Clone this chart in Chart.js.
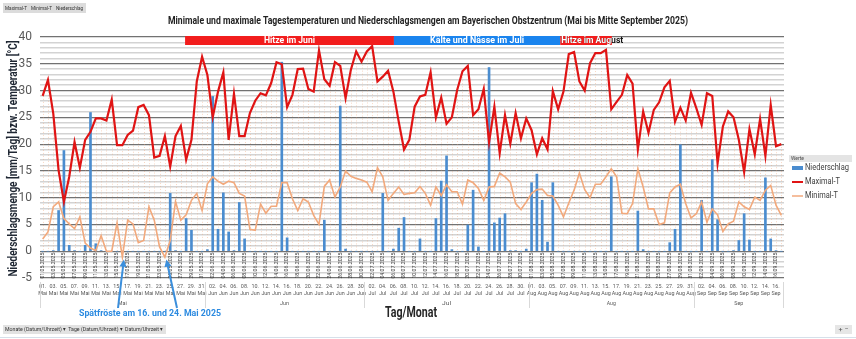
<!DOCTYPE html>
<html>
<head>
<meta charset="utf-8">
<title>Tagestemperaturen und Niederschlag – Bayerisches Obstzentrum 2025</title>
<script src="https://cdn.jsdelivr.net/npm/chart.js@4.4.2/dist/chart.umd.min.js"></script>
<style>
  html, body { margin: 0; padding: 0; background: #fff; }
  #wrap { width: 856px; height: 339px; }
</style>
</head>
<body>
<div id="wrap"><canvas id="wetter" width="856" height="339"></canvas></div>
<script>
// Kategorien: 01.05. bis 17.09.2025
const monthNames = ['Mai', 'Jun', 'Jul', 'Aug', 'Sep'];
const monthNums = ['05', '06', '07', '08', '09'];
const monthDays = [31, 30, 31, 31, 17];

// Tageswerte (°C bzw. mm/Tag)
const maxTemp = [
  29.0, 32.0, 25.7, 15.1, 9.2, 13.9, 20.4, 15.6, 20.8, 22.3,
  24.8, 24.8, 24.4, 28.3, 19.8, 19.8, 21.7, 22.5, 26.9, 27.3,
  25.4, 17.5, 17.8, 21.5, 15.8, 21.5, 23.4, 17.1, 20.8, 31.7,
  36.3, 32.9, 25.0, 29.8, 33.4, 20.8, 29.4, 21.5, 21.5, 25.8,
  28.1, 29.5, 29.1, 31.4, 35.3, 34.9, 26.9, 29.2, 34.0, 34.1,
  30.3, 29.8, 37.5, 32.1, 30.9, 35.3, 34.6, 28.6, 33.9, 37.3,
  35.4, 37.3, 38.3, 31.7, 32.6, 33.7, 29.8, 24.2, 19.0, 20.8,
  27.0, 28.9, 29.2, 33.4, 25.0, 28.7, 23.8, 25.0, 30.1, 33.6,
  34.6, 25.4, 26.5, 30.3, 20.3, 27.0, 18.3, 25.4, 20.1, 25.8,
  21.1, 24.8, 22.6, 18.1, 21.1, 19.0, 29.9, 26.5, 29.8, 36.8,
  37.2, 31.7, 30.0, 35.1, 37.0, 37.0, 37.6, 26.5, 27.9, 29.2,
  32.9, 31.3, 19.0, 26.1, 22.1, 26.4, 27.8, 30.6, 31.8, 24.2,
  26.8, 24.4, 29.6, 26.7, 23.6, 29.5, 29.0, 16.4, 23.3, 26.1,
  25.0, 20.8, 14.8, 22.8, 18.1, 24.7, 17.8, 27.3, 19.6, 20.0
];
const minTemp = [
  2.3, 3.6, 8.3, 9.2, 6.1, 5.1, 4.2, 6.4, 1.5, 0.6,
  0.1, 2.9, 0.0, 0.0, 5.3, -1.1, 5.8, 5.1, 1.6, 2.0,
  8.3, 5.8, 0.8, -1.1, 2.0, 9.3, 5.8, 6.8, 9.5, 10.8,
  7.6, 12.6, 13.9, 13.1, 12.5, 13.1, 12.8, 10.8, 10.3, 4.1,
  3.9, 8.8, 7.1, 8.4, 8.4, 12.8, 12.8, 9.8, 7.6, 9.8,
  9.2, 6.7, 5.0, 12.1, 13.3, 10.1, 12.0, 15.0, 14.0, 13.6,
  13.3, 12.9, 11.1, 15.6, 13.9, 9.5, 10.8, 12.0, 10.6, 10.8,
  10.9, 12.1, 10.8, 8.6, 12.0, 10.4, 12.4, 11.1, 11.1, 8.8,
  13.3, 12.8, 11.7, 9.5, 12.0, 12.1, 14.6, 13.9, 12.9, 8.9,
  7.8, 9.2, 10.8, 11.5, 11.6, 10.4, 10.3, 8.6, 6.4, 9.0,
  11.4, 14.6, 11.5, 10.0, 12.5, 12.5, 13.9, 15.4, 13.9, 7.1,
  7.0, 8.9, 15.4, 12.0, 7.9, 7.9, 5.0, 5.3, 10.9, 12.0,
  12.5, 8.9, 6.2, 7.0, 9.2, 5.4, 7.9, 6.8, 3.7, 5.1,
  5.6, 9.2, 8.3, 7.8, 10.1, 9.5, 11.4, 12.3, 8.6, 6.7
];
const rain = [
  0, 0, 0.1, 7.6, 18.8, 1.1, 0.1, 0, 1.1, 25.9,
  1.4, 0.1, 0, 0, 0, 0, 0, 0, 0, 0,
  0, 0, 0, 0, 10.8, 0.1, 0, 6.1, 3.9, 0,
  0, 0.3, 28.9, 4.1, 10.9, 3.6, 0.1, 9.1, 2.3, 0,
  0, 0, 0, 0, 0, 35.3, 2.5, 0, 0, 0,
  0, 0, 0, 5.8, 0, 0, 27.1, 0.4, 0, 0,
  0, 0, 0, 0, 10.8, 0, 0.4, 4.3, 6.3, 0,
  0, 2.3, 0, 0, 6.1, 13.1, 17.8, 0.3, 0, 0,
  4.9, 11.4, 0.8, 0, 34.3, 5.3, 6.2, 7.0, 0.1, 0.1,
  0, 0.4, 12.8, 14.4, 9.5, 1.7, 12.8, 0, 0, 0,
  0, 0, 0, 0, 0, 0, 0, 13.9, 0, 0,
  0, 0, 7.5, 0.3, 0, 0, 0, 0, 1.6, 4.1,
  19.9, 0, 0, 0, 9.5, 0, 17.1, 5.9, 0, 0,
  0.1, 2.0, 7.0, 2.1, 0, 0, 13.7, 2.3, 0.1, 0
];

// Hinweisbalken oben (Tagesindex von/bis) und Spätfrost-Tage
const phases = [
  { text: 'Hitze im Juni', from: 26.8, to: 66.1, color: '#f21d1d' },
  { text: 'Kälte und Nässe im Juli', from: 66.1, to: 97.4, color: '#1a84ee' },
  { text: 'Hitze im August', from: 97.4, to: 107.1, color: '#f21d1d' }
];
const frostDays = [15, 23];

const dates = [], dayLabels = [];
monthNames.forEach((m, mi) => {
  for (let d = 1; d <= monthDays[mi]; d++) {
    const dd = String(d).padStart(2, '0');
    dates.push(dd + '.' + monthNums[mi] + '.2025');
    dayLabels.push([dd + '.', m]);
  }
});

const FONT = 'Roboto, "Open Sans", sans-serif';
const RED = '#e01414';
const ORANGE = '#f2a97c';
const BLUE = '#4a8ccf';

// text squeezed or stretched to a given width
function fitText(ctx, text, x, y, w, font, color, align) {
  ctx.save();
  ctx.font = font;
  const s = w / ctx.measureText(text).width;
  ctx.translate(x, y);
  ctx.scale(s, 1);
  ctx.fillStyle = color;
  ctx.textAlign = align || 'center';
  ctx.textBaseline = 'middle';
  ctx.fillText(text, 0, 0);
  ctx.restore();
}

function arrow(ctx, x1, y1, x2, y2, color) {
  const a = Math.atan2(y2 - y1, x2 - x1);
  ctx.save();
  ctx.strokeStyle = color;
  ctx.fillStyle = color;
  ctx.lineWidth = 2;
  ctx.beginPath();
  ctx.moveTo(x1, y1);
  ctx.lineTo(x2 - 5 * Math.cos(a), y2 - 5 * Math.sin(a));
  ctx.stroke();
  ctx.beginPath();
  ctx.moveTo(x2, y2);
  ctx.lineTo(x2 - 7 * Math.cos(a) + 3.5 * Math.sin(a), y2 - 7 * Math.sin(a) - 3.5 * Math.cos(a));
  ctx.lineTo(x2 - 7 * Math.cos(a) - 3.5 * Math.sin(a), y2 - 7 * Math.sin(a) + 3.5 * Math.cos(a));
  ctx.closePath();
  ctx.fill();
  ctx.restore();
}

const deko = {
  id: 'deko',
  beforeDraw(chart) {
    const ctx = chart.ctx;
    ctx.save();
    ctx.fillStyle = '#fff';
    ctx.fillRect(0, 0, chart.width, chart.height);
    ctx.restore();
  },
  beforeDatasetsDraw(chart) {
    const ctx = chart.ctx, x = chart.scales.x, y = chart.scales.y;
    const pts = chart.getDatasetMeta(1).data;
    const y0 = y.getPixelForValue(0);
    ctx.save();
    // Lotlinien vom Maximalwert zur Achse
    ctx.strokeStyle = 'rgba(238,160,112,0.42)';
    ctx.lineWidth = 1;
    ctx.setLineDash([1, 2]);
    pts.forEach(p => {
      ctx.beginPath();
      ctx.moveTo(Math.round(p.x) + 0.5, p.y);
      ctx.lineTo(Math.round(p.x) + 0.5, y0);
      ctx.stroke();
    });
    ctx.setLineDash([]);
    // gedrehte Datumsbeschriftung unterhalb der Nulllinie
    const yc = (y0 + y.getPixelForValue(-5)) / 2 + 1;
    dates.forEach((d, i) => {
      if (i % 2) return;
      ctx.save();
      ctx.translate(x.getPixelForValue(i), yc);
      ctx.rotate(-Math.PI / 2);
      fitText(ctx, d, 0, 0, 26, '5.5px ' + FONT, '#3c3c3c');
      ctx.restore();
    });
    ctx.restore();
  },
  afterDraw(chart) {
    const ctx = chart.ctx, x = chart.scales.x, y = chart.scales.y, area = chart.chartArea;
    const step = x.getPixelForValue(1) - x.getPixelForValue(0);
    const edge = d => area.left + d * step;
    ctx.save();

    // Feldschaltflächen der Pivot-Tabelle
    ctx.fillStyle = '#dcdcdc';
    ctx.fillRect(3, 3, 83, 10);
    fitText(ctx, 'Maximal-T', 5, 8, 22, '6px ' + FONT, '#333', 'left');
    fitText(ctx, 'Minimal-T', 31, 8, 21, '6px ' + FONT, '#333', 'left');
    fitText(ctx, 'Niederschlag', 56, 8, 27, '6px ' + FONT, '#333', 'left');
    ctx.fillStyle = '#e2e2e2';
    ctx.fillRect(3, 325, 163, 9);
    fitText(ctx, 'Monate (Datum/Uhrzeit) ▾  Tage (Datum/Uhrzeit) ▾  Datum/Uhrzeit ▾', 5, 329.5, 158, '6px ' + FONT, '#333', 'left');
    ctx.fillStyle = '#e6e6e6';
    ctx.fillRect(835, 325, 17, 9);
    fitText(ctx, '+ −', 843.5, 329.5, 10, '6px ' + FONT, '#555');
    ctx.fillStyle = '#d6e0ea';
    ctx.fillRect(0, 337, 856, 1);

    // Titel
    fitText(ctx, 'Minimale und maximale Tagestemperaturen und Niederschlagsmengen am Bayerischen Obstzentrum (Mai bis Mitte September 2025)',
      428, 21, 520, 'bold 10px ' + FONT, '#222');

    // Hinweisbalken
    const by = 36, bh = 9;
    phases.forEach(ph => {
      ctx.fillStyle = ph.color;
      ctx.fillRect(edge(ph.from + 0.5), by, edge(ph.to + 0.5) - edge(ph.from + 0.5), bh);
    });
    const b0 = edge(phases[0].from + 0.5), b1 = edge(phases[1].from + 0.5);
    const b2 = edge(phases[2].from + 0.5), b3 = edge(phases[2].to + 0.5);
    fitText(ctx, phases[0].text, (b0 + b1) / 2, by + bh / 2 + 0.5, 51, 'bold 9px ' + FONT, '#fff');
    fitText(ctx, phases[1].text, (b1 + b2) / 2, by + bh / 2 + 0.5, 94, 'bold 9px ' + FONT, '#fff');
    // letzter Text läuft über den Balken hinaus: außen schwarz, innen weiß
    fitText(ctx, phases[2].text, b2 + 1, by + bh / 2 + 0.5, 62, 'bold 9px ' + FONT, '#111', 'left');
    ctx.save();
    ctx.beginPath();
    ctx.rect(b2, by, b3 - b2, bh);
    ctx.clip();
    fitText(ctx, phases[2].text, b2 + 1, by + bh / 2 + 0.5, 62, 'bold 9px ' + FONT, '#fff', 'left');
    ctx.restore();

    // Achsentitel
    ctx.save();
    ctx.translate(14, (area.top + area.bottom) / 2 + 1);
    ctx.rotate(-Math.PI / 2);
    fitText(ctx, 'Niederschlagsmenge [mm/Tag] bzw. Temperatur [°C]', 0, 0, 236, 'bold 12.5px ' + FONT, '#1f2733');
    ctx.restore();
    fitText(ctx, 'Tag/Monat', 411, 313, 52, 'bold 14px ' + FONT, '#262626');

    // Monatsgruppen unter den Tagesbeschriftungen
    let start = 0;
    ctx.strokeStyle = '#d9d9d9';
    ctx.lineWidth = 1;
    monthDays.forEach((n, mi) => {
      const xa = edge(start), xb = edge(start + n);
      ctx.beginPath();
      ctx.moveTo(Math.round(xa) + 0.5, area.bottom + 4);
      ctx.lineTo(Math.round(xa) + 0.5, 308);
      if (mi === monthDays.length - 1) {
        ctx.moveTo(Math.round(xb) - 0.5, area.bottom + 4);
        ctx.lineTo(Math.round(xb) - 0.5, 308);
      }
      ctx.stroke();
      fitText(ctx, monthNames[mi], (xa + xb) / 2, 303, 9, '6px ' + FONT, '#595959');
      start += n;
    });

    // Spätfrost-Hinweis mit Pfeilen
    fitText(ctx, 'Spätfröste am 16. und 24. Mai 2025', 79, 313.5, 142, 'bold 9.5px ' + FONT, '#2b8ae0', 'left');
    const starts = [[118, 308], [177, 308]];
    frostDays.forEach((d, k) => {
      arrow(ctx, starts[k][0], starts[k][1], x.getPixelForValue(d) + 1.5, y.getPixelForValue(minTemp[d]) + 2.5, '#3b8fdc');
    });

    // Legende
    ctx.fillStyle = '#e4e4e4';
    ctx.fillRect(789, 155, 63, 7);
    fitText(ctx, 'Werte', 791, 158.5, 13, '5px ' + FONT, '#444', 'left');
    ctx.fillStyle = BLUE;
    ctx.fillRect(792, 166, 11, 4);
    ctx.strokeStyle = RED;
    ctx.lineWidth = 2;
    ctx.beginPath(); ctx.moveTo(792, 182); ctx.lineTo(803, 182); ctx.stroke();
    ctx.strokeStyle = ORANGE;
    ctx.lineWidth = 1.5;
    ctx.beginPath(); ctx.moveTo(792, 196); ctx.lineTo(803, 196); ctx.stroke();
    fitText(ctx, 'Niederschlag', 805, 168, 44, '9.5px ' + FONT, '#404040', 'left');
    fitText(ctx, 'Maximal-T', 805, 182, 35, '9.5px ' + FONT, '#404040', 'left');
    fitText(ctx, 'Minimal-T', 805, 196, 33, '9.5px ' + FONT, '#404040', 'left');

    ctx.restore();
  }
};

new Chart(document.getElementById('wetter'), {
  type: 'bar',
  data: {
    labels: dates,
    datasets: [
      { type: 'bar', label: 'Niederschlag', data: rain, backgroundColor: BLUE, barThickness: 2, order: 3 },
      { type: 'line', label: 'Maximal-T', data: maxTemp, borderColor: RED, borderWidth: 2.2, pointRadius: 0, tension: 0, order: 1 },
      { type: 'line', label: 'Minimal-T', data: minTemp, borderColor: ORANGE, borderWidth: 1.6, pointRadius: 0, tension: 0, order: 2 }
    ]
  },
  options: {
    responsive: false,
    animation: false,
    devicePixelRatio: 1,
    layout: { padding: { left: 0, right: 72, top: 37, bottom: 0 } },
    plugins: { legend: { display: false }, tooltip: { enabled: false }, title: { display: false } },
    scales: {
      x: {
        offset: true,
        grid: { display: false, drawTicks: false },
        border: { display: false },
        ticks: {
          autoSkip: false, maxRotation: 0, minRotation: 0, padding: 5,
          color: '#595959',
          font: { family: FONT, size: 5.4, lineHeight: 1.35 },
          callback: (v, i) => (i % 2 === 0 ? dayLabels[i] : '')
        },
        afterFit: s => { s.height = 61; }
      },
      y: {
        min: -5, max: 40,
        border: { display: false },
        grid: {
          drawTicks: false,
          color: c => (c.tick.value % 5 === 0 ? '#727272' : '#d3d3d3'),
          lineWidth: c => (c.tick.value % 5 === 0 ? 1.2 : 1.6)
        },
        ticks: {
          stepSize: 1, autoSkip: false, padding: 8, color: '#595959',
          font: { family: FONT, size: 12 },
          callback: v => (v % 5 === 0 ? v : '')
        },
        afterFit: s => { s.width = 40; }
      }
    }
  },
  plugins: [deko]
});
</script>
</body>
</html>
